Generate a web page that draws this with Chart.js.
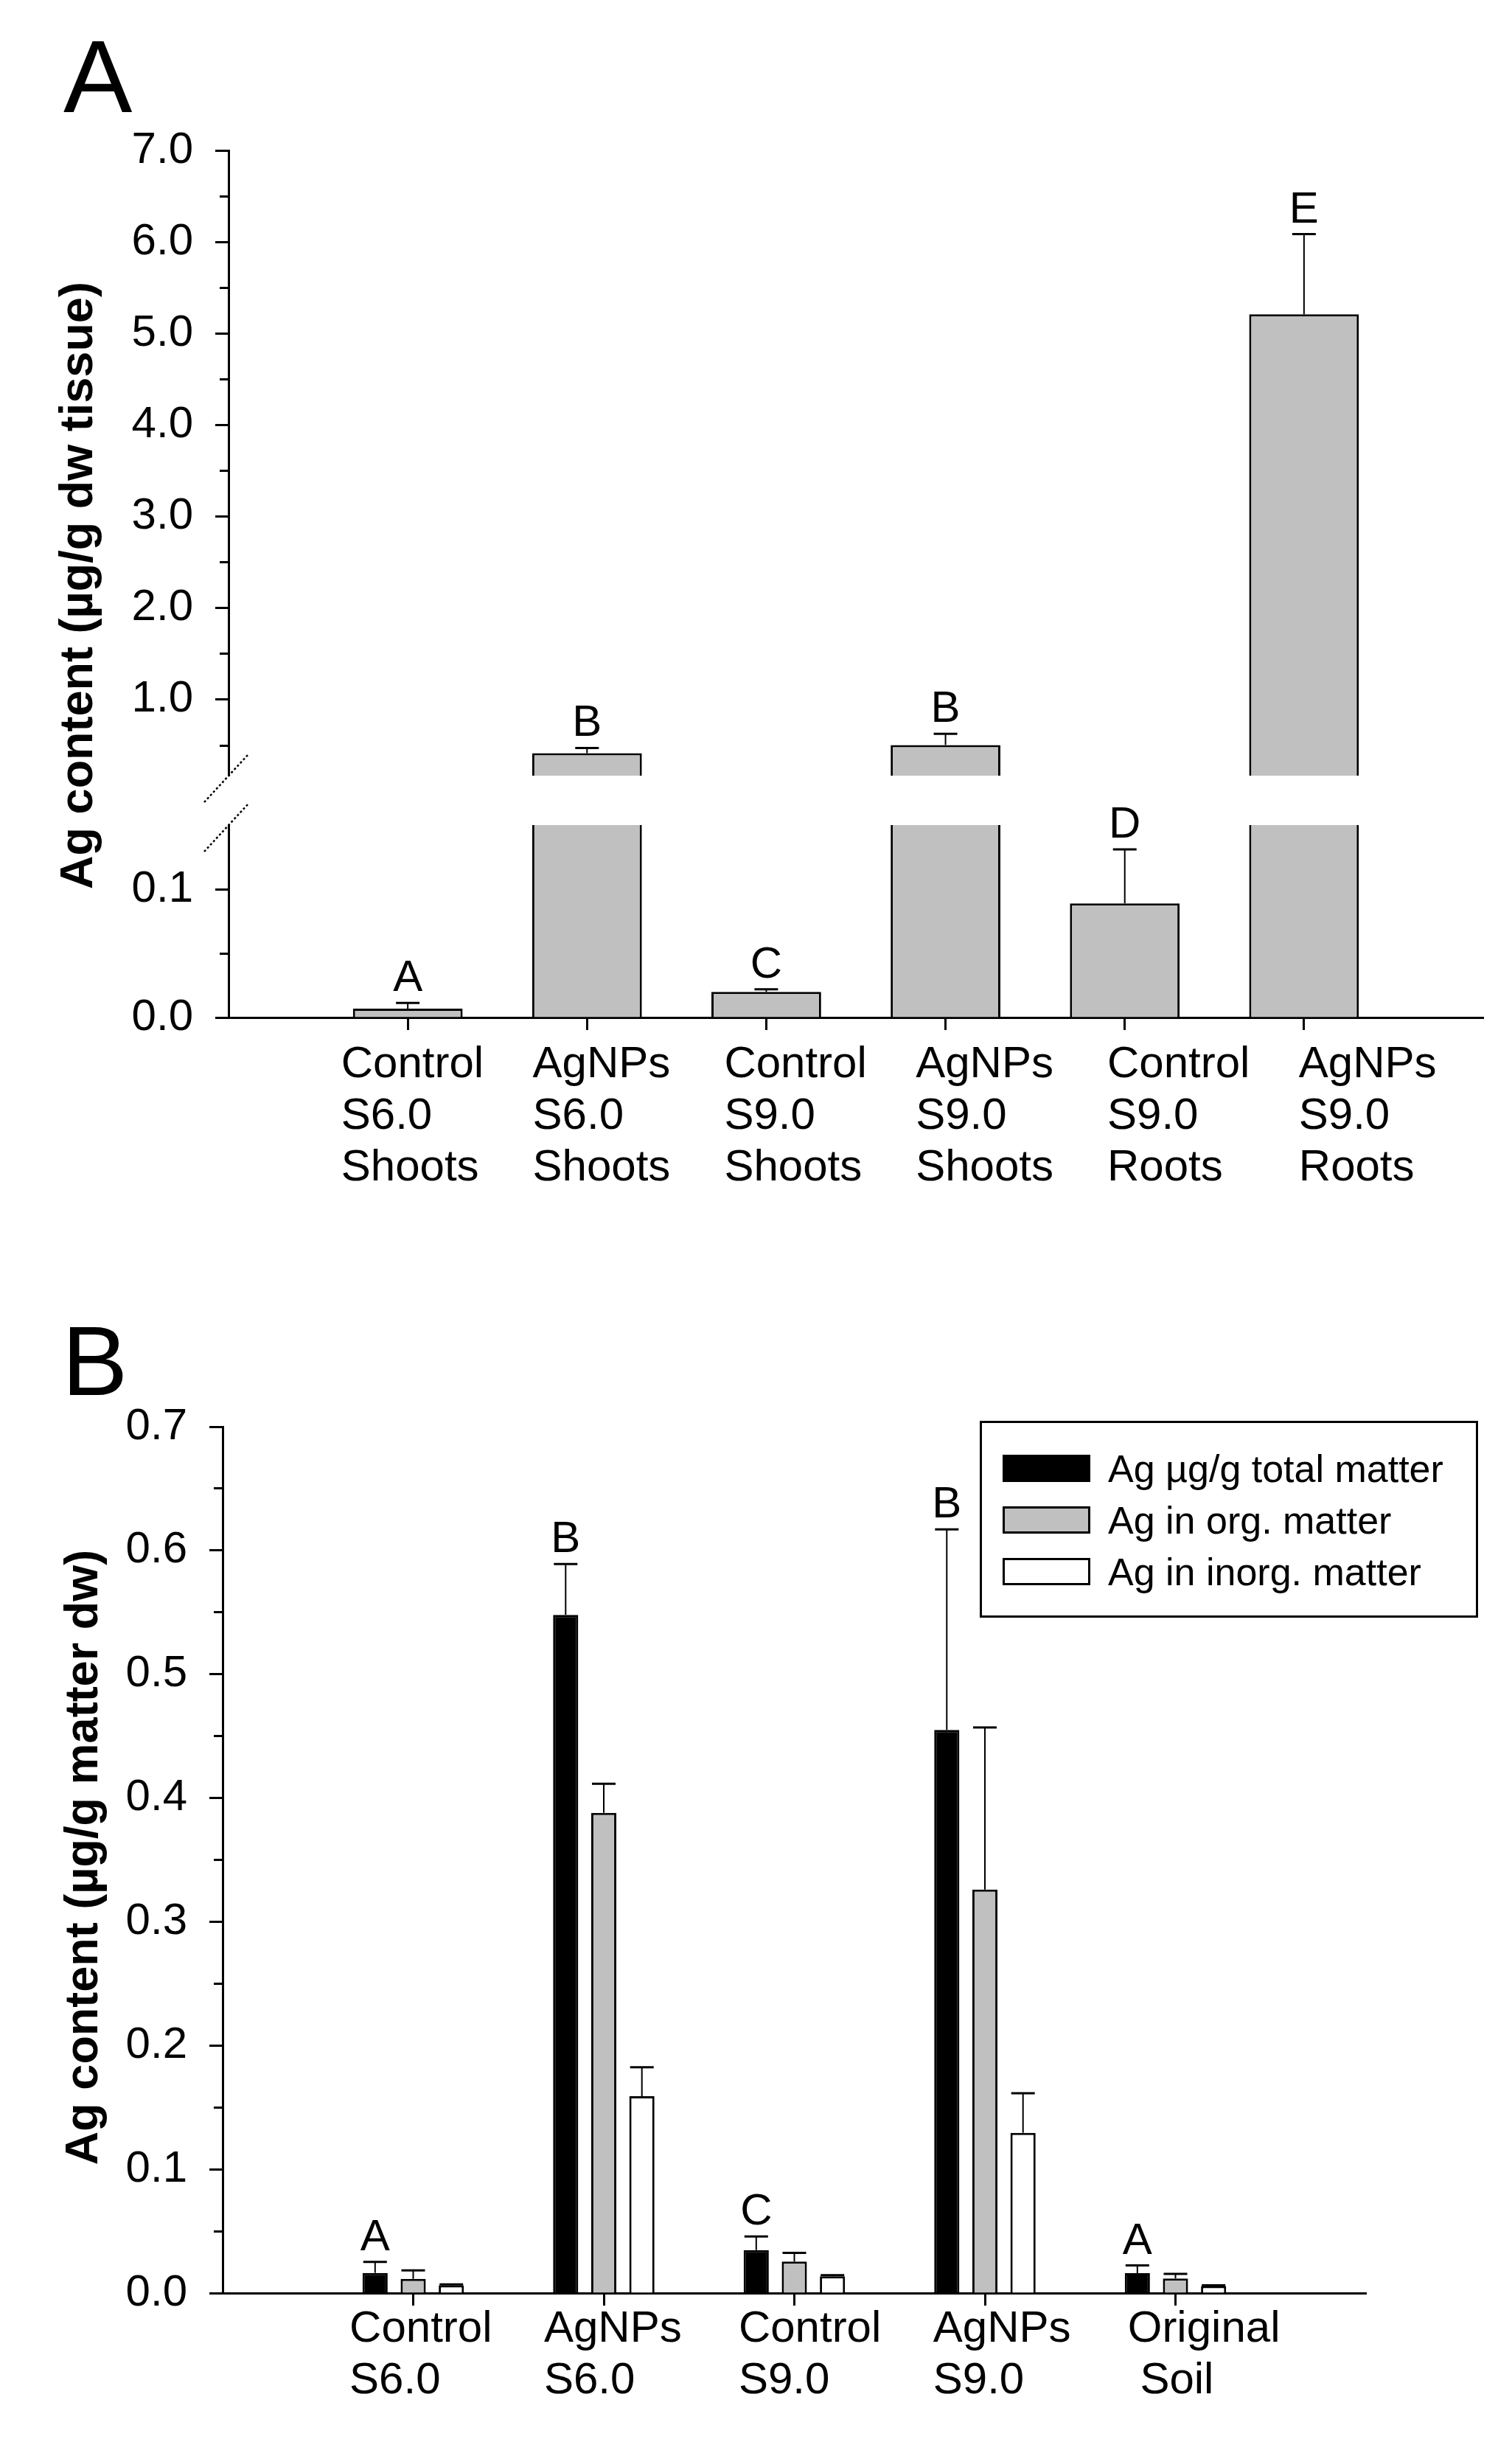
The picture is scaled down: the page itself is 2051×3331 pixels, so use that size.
<!DOCTYPE html>
<html>
<head>
<meta charset="utf-8">
<script src="https://cdn.jsdelivr.net/npm/chart.js@4.4.1/dist/chart.umd.min.js"></script>
<style>
body { margin: 0; background: #fff; }
#page { position: relative; width: 2051px; height: 3331px; background: #fff; }
canvas { position: absolute; left: 0; }
#chartA { top: 0; }
#chartB { top: 1700px; }
#legendB {
    position: absolute; left: 1329px; top: 1927px; width: 676px; height: 267px;
    border: 3px solid #000; box-sizing: border-box; background: #fff;
    font-family: 'Liberation Sans', Arial, sans-serif; color: #000;
}
.lg-row { position: absolute; left: 28px; height: 38px; width: 620px; }
.lg-sw { position: absolute; left: 0; top: 0; width: 119px; height: 37px; border: 3px solid #000; box-sizing: border-box; }
.lg-tx { position: absolute; left: 143px; top: 0; font-size: 52px; line-height: 38px; white-space: nowrap; }
</style>
</head>
<body>
<div id="page">
    <canvas id="chartA" width="2051" height="1700"></canvas>
    <canvas id="chartB" width="2051" height="1631"></canvas>
    <div id="legendB"></div>
</div>
<script>
const FONT = "'Liberation Sans', Arial, sans-serif";
const GRAY = '#c0c0c0';

// ---- Panel A data ----
const catsA = [
    ['Control', 'S6.0', 'Shoots'],
    ['AgNPs', 'S6.0', 'Shoots'],
    ['Control', 'S9.0', 'Shoots'],
    ['AgNPs', 'S9.0', 'Shoots'],
    ['Control', 'S9.0', 'Roots'],
    ['AgNPs', 'S9.0', 'Roots']
];
const valsA = [0.0069, 0.415, 0.020, 0.505, 0.089, 5.21];
const errsA = [0.0044, 0.058, 0.002, 0.123, 0.042, 0.875];
const lettersA = ['A', 'B', 'C', 'B', 'D', 'E'];
const yTicksUpperA = [0.5, 1, 1.5, 2, 2.5, 3, 3.5, 4, 4.5, 5, 5.5, 6, 6.5, 7];
const yLabelsUpperA = ['', '1.0', '', '2.0', '', '3.0', '', '4.0', '', '5.0', '', '6.0', '', '7.0'];
const yTicksLowerA = [0, 0.05, 0.1];
const yLabelsLowerA = ['0.0', '', '0.1'];
const breakLowA = 0.15;
const breakHighA = 0.17;

// ---- Panel B data ----
const catsB = [
    ['Control', 'S6.0'],
    ['AgNPs', 'S6.0'],
    ['Control', 'S9.0'],
    ['AgNPs', 'S9.0'],
    ['Original', ' Soil']
];
const seriesB = ['Ag µg/g total matter', 'Ag in org. matter', 'Ag in inorg. matter'];
const colorsB = ['#000000', GRAY, '#ffffff'];
const totalB = [0.0163, 0.548, 0.0347, 0.455, 0.0161];
const totalErrB = [0.0089, 0.041, 0.011, 0.162, 0.0062];
const orgB = [0.0115, 0.388, 0.0254, 0.326, 0.0118];
const orgErrB = [0.0068, 0.0235, 0.007, 0.131, 0.0037];
const inorgB = [0.0062, 0.159, 0.0135, 0.1295, 0.0056];
const inorgErrB = [0.0008, 0.0235, 0.001, 0.032, 0.0006];
const lettersB = ['A', 'B', 'C', 'B', 'A'];
const yTicksB = [0, 0.05, 0.1, 0.15, 0.2, 0.25, 0.3, 0.35, 0.4, 0.45, 0.5, 0.55, 0.6, 0.65, 0.7];
const yLabelsB = ['0.0', '', '0.1', '', '0.2', '', '0.3', '', '0.4', '', '0.5', '', '0.6', '', '0.7'];

Chart.defaults.font.family = FONT;
Chart.defaults.color = '#000';

function yAxis(ticks, labels, width, extra) {
    return Object.assign({
        type: 'linear',
        position: 'left',
        afterBuildTicks: s => { s.ticks = ticks.map(v => ({ value: v })); },
        afterFit: s => { s.width = width; },
        border: { color: '#000', width: 3 },
        grid: {
            drawOnChartArea: false,
            color: '#000',
            tickLength: 18,
            tickWidth: 3,
            tickBorderDash: c => labels[c.index] === '' ? [0, 6, 11, 200] : []
        },
        ticks: {
            autoSkip: false,
            padding: 30,
            color: '#000',
            font: { size: 60 },
            callback: (v, i) => labels[i]
        }
    }, extra);
}

function xAxis(n, max) {
    return {
        type: 'linear',
        position: 'bottom',
        min: 0,
        max: max,
        offset: false,
        afterBuildTicks: s => { s.ticks = Array.from({ length: n }, (_, i) => ({ value: i + 1 })); },
        afterFit: s => { s.height = 17; },
        border: { color: '#000', width: 3 },
        grid: { offset: false, drawOnChartArea: false, color: '#000', tickLength: 17, tickWidth: 3 },
        ticks: { display: false }
    };
}

function labelAxis(cats, min, max, height, padding) {
    return {
        type: 'linear',
        position: 'bottom',
        weight: 1,
        min: min,
        max: max,
        offset: false,
        afterBuildTicks: s => { s.ticks = cats.map((c, i) => ({ value: i + 1 })); },
        afterFit: s => { s.height = height; },
        border: { display: false },
        grid: { display: false, drawTicks: false, offset: false },
        ticks: {
            autoSkip: false,
            maxRotation: 0,
            minRotation: 0,
            align: 'start',
            padding: padding,
            color: '#000',
            font: { size: 60, lineHeight: 70 / 60 },
            callback: (v, i) => cats[i]
        }
    };
}

function errorBar(ctx, x, yBar, yTop, letter) {
    ctx.save();
    ctx.strokeStyle = '#000';
    ctx.lineWidth = 2;
    ctx.beginPath();
    ctx.moveTo(x, yBar);
    ctx.lineTo(x, yTop);
    ctx.stroke();
    ctx.lineWidth = 3;
    ctx.beginPath();
    ctx.moveTo(x - 16, yTop);
    ctx.lineTo(x + 16, yTop);
    ctx.stroke();
    if (letter) {
        ctx.fillStyle = '#000';
        ctx.font = '60px ' + FONT;
        ctx.textAlign = 'center';
        ctx.textBaseline = 'alphabetic';
        ctx.fillText(letter, x, yTop - 16);
    }
    ctx.restore();
}

function drawText(ctx, text, x, y, font, rotate) {
    ctx.save();
    ctx.fillStyle = '#000';
    ctx.font = font;
    ctx.translate(x, y);
    if (rotate) ctx.rotate(-Math.PI / 2);
    ctx.textAlign = rotate ? 'center' : 'left';
    ctx.textBaseline = 'alphabetic';
    ctx.fillText(text, 0, 0);
    ctx.restore();
}

// ---- Panel A ----
const panelAPlugin = {
    id: 'panelA',
    afterDatasetsDraw(chart) {
        const ctx = chart.ctx;
        valsA.forEach((v, i) => {
            const upper = v > breakLowA;
            const bar = chart.getDatasetMeta(upper ? 0 : 1).data[i];
            const scale = chart.scales[upper ? 'yHigh' : 'yLow'];
            errorBar(ctx, bar.x, bar.y, scale.getPixelForValue(v + errsA[i]), lettersA[i]);
        });
    },
    afterDraw(chart) {
        const ctx = chart.ctx;
        const ax = chart.chartArea.left;
        ctx.save();
        ctx.strokeStyle = '#000';
        ctx.lineWidth = 2.5;
        ctx.setLineDash([3, 3]);
        [chart.scales.yHigh.bottom, chart.scales.yLow.top].forEach(y => {
            ctx.beginPath();
            ctx.moveTo(ax - 33, y + 36);
            ctx.lineTo(ax + 27, y - 29);
            ctx.stroke();
        });
        ctx.restore();
        drawText(ctx, 'A', 86, 152, '140px ' + FONT, false);
        drawText(ctx, 'Ag content (µg/g dw tissue)', 125, 794, 'bold 63px ' + FONT, true);
    }
};

new Chart(document.getElementById('chartA'), {
    type: 'bar',
    data: {
        datasets: [
            {
                label: 'upper',
                yAxisID: 'yHigh',
                data: valsA.map((v, i) => ({ x: i + 1, y: v > breakLowA ? v : null })),
                backgroundColor: GRAY,
                borderColor: '#000',
                borderWidth: 3,
                grouped: false,
                categoryPercentage: 1,
                barPercentage: 0.612
            },
            {
                label: 'lower',
                yAxisID: 'yLow',
                data: valsA.map((v, i) => ({ x: i + 1, y: Math.min(v, breakLowA) })),
                backgroundColor: GRAY,
                borderColor: '#000',
                borderWidth: c => valsA[c.dataIndex] > breakLowA ? { top: 0, left: 3, right: 3, bottom: 0 } : 3,
                grouped: false,
                categoryPercentage: 1,
                barPercentage: 0.612
            }
        ]
    },
    options: {
        responsive: false,
        animation: false,
        devicePixelRatio: 1,
        layout: { padding: { top: 204, right: 39, bottom: 23, left: 0 } },
        plugins: { legend: { display: false }, tooltip: { enabled: false } },
        scales: {
            x: xAxis(catsA.length, catsA.length + 1),
            xLab: labelAxis(catsA, 0.412, 6.963, 280, 12),
            yHigh: yAxis(yTicksUpperA, yLabelsUpperA, 310, {
                min: breakHighA, max: 7, stack: 'left', stackWeight: 848, weight: 3
            }),
            yGap: { type: 'linear', position: 'left', display: false, min: 0, max: 1, stack: 'left', stackWeight: 67, weight: 2 },
            yLow: yAxis(yTicksLowerA, yLabelsLowerA, 310, {
                min: 0, max: breakLowA, stack: 'left', stackWeight: 261, weight: 1
            })
        }
    },
    plugins: [panelAPlugin]
});

// ---- Panel B ----
const valuesB = [totalB, orgB, inorgB];
const errorsB = [totalErrB, orgErrB, inorgErrB];

const panelBPlugin = {
    id: 'panelB',
    afterDatasetsDraw(chart) {
        const ctx = chart.ctx;
        const y = chart.scales.y;
        valuesB.forEach((vals, k) => {
            const meta = chart.getDatasetMeta(k);
            vals.forEach((v, i) => {
                const bar = meta.data[i];
                errorBar(ctx, bar.x, bar.y, y.getPixelForValue(v + errorsB[k][i]), k === 0 ? lettersB[i] : null);
            });
        });
    },
    afterDraw(chart) {
        const ctx = chart.ctx;
        drawText(ctx, 'B', 84, 192, '134px ' + FONT, false);
        drawText(ctx, 'Ag content (µg/g matter dw)', 132, 819, 'bold 63px ' + FONT, true);
    }
};

new Chart(document.getElementById('chartB'), {
    type: 'bar',
    data: {
        datasets: seriesB.map((name, k) => ({
            label: name,
            data: valuesB[k].map((v, i) => ({ x: i + 1, y: v })),
            backgroundColor: colorsB[k],
            borderColor: '#000',
            borderWidth: 3,
            categoryPercentage: 0.6,
            barPercentage: 0.66
        }))
    },
    options: {
        responsive: false,
        animation: false,
        devicePixelRatio: 1,
        layout: { padding: { top: 235, right: 198, bottom: 4, left: 0 } },
        plugins: { legend: { display: false }, tooltip: { enabled: false } },
        scales: {
            x: xAxis(catsB.length, catsB.length + 1),
            xLab: labelAxis(catsB, 0.348, 6.225, 200, -3),
            y: yAxis(yTicksB, yLabelsB, 302, { min: 0, max: 0.7 })
        }
    },
    plugins: [panelBPlugin]
});

// legend for panel B
const legendB = document.getElementById('legendB');
seriesB.forEach((name, k) => {
    const row = document.createElement('div');
    row.className = 'lg-row';
    row.style.top = (43 + k * 70) + 'px';
    row.innerHTML = `<span class="lg-sw" style="background:${colorsB[k]}"></span><span class="lg-tx">${name}</span>`;
    legendB.appendChild(row);
});
</script>
</body>
</html>
